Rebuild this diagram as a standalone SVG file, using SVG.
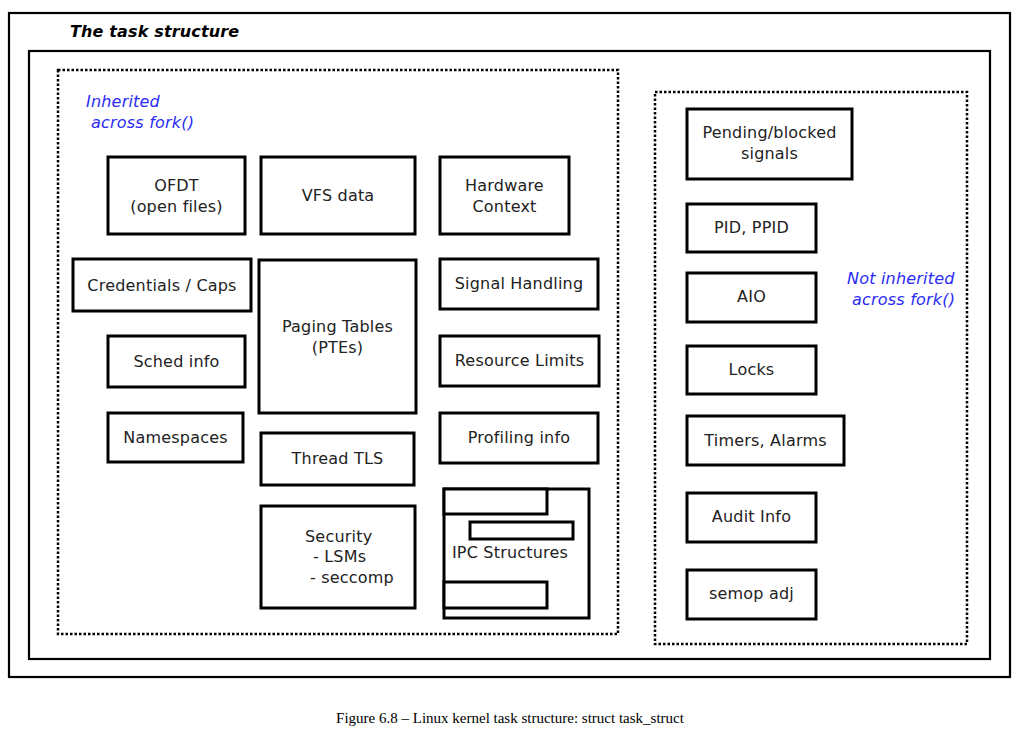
<svg xmlns="http://www.w3.org/2000/svg" width="1026" height="730" viewBox="0 0 1026 730">
<style>
.frame{fill:none;stroke:#000;stroke-width:2.2}
.dot{fill:none;stroke:#000;stroke-width:2.5;stroke-dasharray:2.5 2}
.box{fill:#fff;stroke:#000;stroke-width:3}
.t{font-family:"DejaVu Sans",sans-serif;font-size:16px;letter-spacing:0.2px;fill:#222;text-anchor:middle}
.ts{font-family:"DejaVu Sans",sans-serif;font-size:16px;letter-spacing:0.2px;fill:#222}
.blue{font-family:"DejaVu Sans",sans-serif;font-size:16px;letter-spacing:0.2px;font-style:oblique;fill:#2b2bf5}
.title{font-family:"DejaVu Sans",sans-serif;font-size:16px;letter-spacing:0.15px;font-weight:bold;font-style:oblique;fill:#000}
.cap{font-family:"Liberation Serif","Times New Roman",serif;font-size:15px;fill:#000;text-anchor:middle}
</style>
<rect width="1026" height="730" fill="#fff"/>
<g id="outer">
<rect class="frame" x="9" y="13" width="1001" height="664"/>
<text class="title" x="70" y="37">The task structure</text>
<rect class="frame" x="29" y="51" width="961" height="608"/>
</g>
<g id="inherited">
<rect class="dot" x="58" y="70" width="560" height="564"/>
<text class="blue" x="86" y="107">Inherited</text>
<text class="blue" x="91" y="128">across fork()</text>
</g>
<g id="notinherited">
<rect class="dot" x="655" y="92" width="312" height="552"/>
<text class="blue" x="847" y="284">Not inherited</text>
<text class="blue" x="852" y="305">across fork()</text>
</g>
<g id="ofdt"><rect class="box" x="108" y="157" width="137" height="77"/><text class="t" x="176.5" y="191">OFDT</text><text class="t" x="176.5" y="212">(open files)</text></g>
<g id="vfs"><rect class="box" x="261" y="157" width="154" height="77"/><text class="t" x="338" y="201">VFS data</text></g>
<g id="hw"><rect class="box" x="440" y="157" width="129" height="77"/><text class="t" x="504.5" y="191">Hardware</text><text class="t" x="504.5" y="212">Context</text></g>
<g id="cred"><rect class="box" x="73" y="259" width="178" height="52"/><text class="t" x="162" y="291">Credentials / Caps</text></g>
<g id="paging"><rect class="box" x="259" y="260" width="157" height="153"/><text class="t" x="337.5" y="332">Paging Tables</text><text class="t" x="337.5" y="353">(PTEs)</text></g>
<g id="signal"><rect class="box" x="440" y="259" width="158" height="50"/><text class="t" x="519" y="289">Signal Handling</text></g>
<g id="sched"><rect class="box" x="108" y="336" width="137" height="51"/><text class="t" x="176.5" y="367">Sched info</text></g>
<g id="rlimits"><rect class="box" x="440" y="336" width="159" height="50"/><text class="t" x="519.5" y="366">Resource Limits</text></g>
<g id="ns"><rect class="box" x="108" y="413" width="135" height="49"/><text class="t" x="175.5" y="443">Namespaces</text></g>
<g id="tls"><rect class="box" x="261" y="433" width="153" height="52"/><text class="t" x="337.5" y="464">Thread TLS</text></g>
<g id="prof"><rect class="box" x="440" y="413" width="158" height="50"/><text class="t" x="519" y="443">Profiling info</text></g>
<g id="security"><rect class="box" x="261" y="506" width="154" height="102"/><text class="ts" x="305" y="542">Security</text><text class="ts" x="313" y="562">- LSMs</text><text class="ts" x="310" y="583">- seccomp</text></g>
<g id="ipc">
<rect class="box" x="444" y="489" width="145" height="129"/>
<rect class="box" x="444" y="489" width="103" height="25"/>
<rect class="box" x="470" y="522" width="103" height="17"/>
<rect class="box" x="444" y="582" width="103" height="26"/>
<text class="t" x="510" y="558">IPC Structures</text>
</g>
<g id="pending"><rect class="box" x="687" y="109" width="165" height="70"/><text class="t" x="769.5" y="138">Pending/blocked</text><text class="t" x="769.5" y="159">signals</text></g>
<g id="pid"><rect class="box" x="687" y="204" width="129" height="48"/><text class="t" x="751.5" y="233">PID, PPID</text></g>
<g id="aio"><rect class="box" x="687" y="273" width="129" height="49"/><text class="t" x="751.5" y="302">AIO</text></g>
<g id="locks"><rect class="box" x="687" y="346" width="129" height="48"/><text class="t" x="751.5" y="375">Locks</text></g>
<g id="timers"><rect class="box" x="687" y="416" width="157" height="49"/><text class="t" x="765.5" y="446">Timers, Alarms</text></g>
<g id="audit"><rect class="box" x="687" y="493" width="129" height="49"/><text class="t" x="751.5" y="522">Audit Info</text></g>
<g id="semop"><rect class="box" x="687" y="570" width="129" height="49"/><text class="t" x="751.5" y="599">semop adj</text></g>
<g id="connectors"></g>
<text class="cap" x="510" y="723">Figure 6.8 – Linux kernel task structure: struct task_struct</text>
</svg>
